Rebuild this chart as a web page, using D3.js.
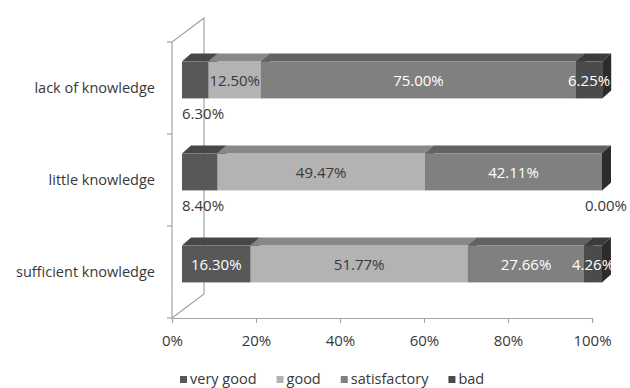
<!DOCTYPE html>
<html>
<head>
<meta charset="utf-8">
<script src="https://cdn.jsdelivr.net/npm/d3@7"></script>
<style>
  html, body { margin: 0; padding: 0; background: #fff; }
  svg { display: block; }
  text { font-family: "Open Sans", "DejaVu Sans", sans-serif; }
</style>
</head>
<body>
<svg id="chart" width="630" height="388"></svg>
<script>
// Knowledge level vs. rating, shares in percent
const categories = ["lack of knowledge", "little knowledge", "sufficient knowledge"];
const seriesNames = ["very good", "good", "satisfactory", "bad"];
const veryGood     = [6.30, 8.40, 16.30];
const good         = [12.50, 49.47, 51.77];
const satisfactory = [75.00, 42.11, 27.66];
const bad          = [6.25, 0.00, 4.26];
const tickValues   = [0, 20, 40, 60, 80, 100];

const seriesValues = [veryGood, good, satisfactory, bad];

// shading for front / top / side faces of each series
const faceColors = [
  { front: "#585858", top: "#474747", side: "#3a3a3a", label: "#ffffff" },
  { front: "#b3b3b3", top: "#888888", side: "#777777", label: "#3a3a3a" },
  { front: "#808080", top: "#626262", side: "#555555", label: "#ffffff" },
  { front: "#4b4b4b", top: "#3b3b3b", side: "#2c2c2c", label: "#ffffff" }
];

const svg = d3.select("#chart");
const textColor = "#383838";
const wallColor = "#a3a3a3";

// floor-front plane scales
const x = d3.scaleLinear().domain([0, 100]).range([172, 592]);
const y = d3.scaleBand().domain(categories).range([42, 318]);

// the bars stand a little behind the front plane
const barShift = { dx: 10, dy: -8 };
const xb = d3.scaleLinear().domain([0, 100]).range([172 + barShift.dx, 592 + barShift.dx]);
const yb = d3.scaleBand().domain(categories)
  .range([42 + barShift.dy, 318 + barShift.dy])
  .paddingInner(0.6).paddingOuter(0.3);

const bar3d = { dx: 9, dy: -8 };     // depth of each bar
const wall3d = { dx: 32, dy: -24 };  // depth of the side wall

// side wall outline
const [y0, y1] = y.range();
const x0 = x(0);
const wall = svg.append("g").attr("stroke", wallColor).attr("stroke-width", 1.2).attr("fill", "none");
wall.append("path").attr("d", d3.line()([
  [x0, y1], [x0, y0], [x0 + wall3d.dx, y0 + wall3d.dy], [x0 + wall3d.dx, y1 + wall3d.dy], [x0, y1]
]));

// category axis ticks on the front edge
const catBounds = [y0, ...categories.map(c => y(c) + y.step())];
wall.selectAll("line.ct").data(catBounds).join("line")
  .attr("x1", x0 - 5).attr("x2", x0).attr("y1", d => d).attr("y2", d => d);

// value axis
const xAxis = d3.axisBottom(x).tickValues(tickValues).tickFormat(d => d + "%").tickSize(5).tickPadding(12);
const gx = svg.append("g").attr("transform", `translate(0,${y1})`).call(xAxis);
gx.select(".domain").attr("stroke", wallColor).attr("stroke-width", 1.2);
gx.selectAll(".tick line").attr("stroke", wallColor);
gx.selectAll(".tick text").attr("fill", textColor).attr("font-size", 15)
  .attr("font-family", "'Open Sans', sans-serif");

// category labels
svg.append("g").selectAll("text").data(categories).join("text")
  .attr("x", 155).attr("y", d => y(d) + y.bandwidth() / 2 + 1)
  .attr("text-anchor", "end").attr("dominant-baseline", "middle")
  .attr("font-size", 14.5).attr("fill", textColor)
  .text(d => d);

// stacked segments
const segments = [];
categories.forEach((cat, ci) => {
  let acc = 0;
  seriesValues.forEach((vals, si) => {
    const v = vals[ci];
    segments.push({ cat, ci, si, v, start: acc, end: acc + v });
    acc += v;
  });
});

const bars = svg.append("g");
segments.forEach(s => {
  const c = faceColors[s.si];
  const xa = xb(s.start), xe = xb(s.end);
  const top = yb(s.cat), bottom = top + yb.bandwidth();
  const g = bars.append("g");
  g.append("rect").attr("x", xa).attr("y", top).attr("width", Math.max(0, xe - xa)).attr("height", bottom - top)
    .attr("fill", c.front);
  g.append("path").attr("fill", c.top).attr("d", d3.line()([
    [xa, top], [xe, top], [xe + bar3d.dx, top + bar3d.dy], [xa + bar3d.dx, top + bar3d.dy]
  ]));
  g.append("path").attr("fill", c.side).attr("d", d3.line()([
    [xe, top], [xe + bar3d.dx, top + bar3d.dy], [xe + bar3d.dx, bottom + bar3d.dy], [xe, bottom]
  ]));
});

// value labels
const labels = svg.append("g").attr("font-size", 15);
segments.forEach(s => {
  const top = yb(s.cat), bottom = top + yb.bandwidth();
  const mid = (top + bottom) / 2;
  const txt = s.v.toFixed(2) + "%";
  let lx, ly, anchor = "middle", fill = faceColors[s.si].label;
  if (s.si === 0 && s.v < 10) {
    // narrow first segment: label sits under the bar
    lx = xb(s.start); ly = bottom + 17; anchor = "start"; fill = textColor;
  } else if (s.si === 3 && s.v === 0) {
    lx = xb(s.end) + 4; ly = bottom + 17; fill = textColor;
  } else {
    lx = (xb(s.start) + xb(s.end)) / 2; ly = mid + 2;
  }
  labels.append("text").attr("x", lx).attr("y", ly)
    .attr("text-anchor", anchor).attr("dominant-baseline", "middle")
    .attr("fill", fill).text(txt);
});

// legend
const legend = svg.append("g").attr("transform", "translate(180,380)");
let lxPos = 0;
seriesNames.forEach((name, i) => {
  const item = legend.append("g").attr("transform", `translate(${lxPos},0)`);
  item.append("rect").attr("x", 0).attr("y", -4).attr("width", 7).attr("height", 7)
    .attr("fill", faceColors[i].front);
  const t = item.append("text").attr("x", 10).attr("y", 0).attr("dominant-baseline", "middle")
    .attr("font-size", 14.5).attr("fill", textColor).text(name);
  lxPos += 10 + t.node().getComputedTextLength() + 20;
});
</script>
</body>
</html>
